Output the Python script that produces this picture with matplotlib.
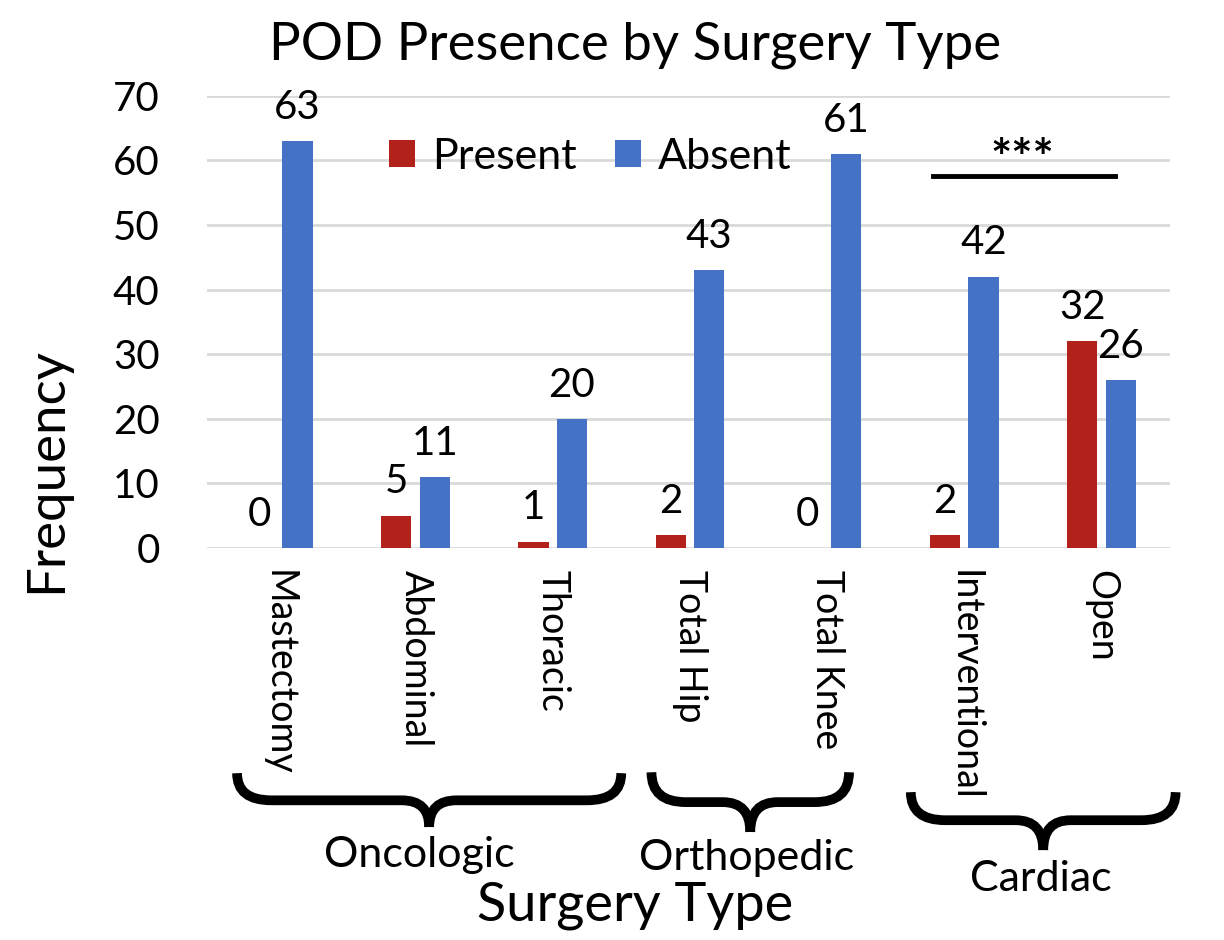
import numpy as np
import matplotlib
matplotlib.use("Agg")
import matplotlib.pyplot as plt
from matplotlib.path import Path
from matplotlib.patches import PathPatch
from matplotlib.transforms import blended_transform_factory

plt.rcParams['font.family'] = ['Lato', 'DejaVu Sans']

# data
categories = ['Mastectomy', 'Abdominal', 'Thoracic', 'Total Hip', 'Total Knee',
              'Interventional', 'Open']
present = [0, 5, 1, 2, 0, 2, 32]
absent = [63, 11, 20, 43, 61, 42, 26]
groups = ['Oncologic', 'Orthopedic', 'Cardiac']
yticks = [0, 10, 20, 30, 40, 50, 60, 70]

red = '#B2221A'
blue = '#4472C4'

fig = plt.figure(figsize=(12.24, 9.4), dpi=100)
ax = fig.add_axes([0.169, 0.417, 0.787, 0.481])

x = np.arange(len(categories))
w = 0.22
off = 0.14
b1 = ax.bar(x - off, present, w, color=red, label='Present', zorder=3)
b2 = ax.bar(x + off, absent, w, color=blue, label='Absent', zorder=3)

# value labels
for bars, vals in ((b1, present), (b2, absent)):
    for r, v in zip(bars, vals):
        ax.annotate(str(v), (r.get_x() + r.get_width() / 2, v),
                    xytext=(0, 11), textcoords='offset points',
                    ha='center', va='bottom', fontsize=29)

ax.set_xlim(-0.52, 6.5)
ax.set_ylim(0, 70)
ax.set_yticks(yticks)
ax.yaxis.grid(True, color='#D9D9D9', linewidth=2, zorder=0)
ax.set_axisbelow(True)
for s in ax.spines.values():
    s.set_visible(False)
ax.tick_params(axis='y', length=0, labelsize=29, pad=34)
ax.tick_params(axis='x', length=0, labelsize=27, pad=16)
ax.set_xticks(x)
ax.set_xticklabels(categories, rotation=270, va='top')

ax.legend(loc='center', bbox_to_anchor=(0.398, 0.865), ncol=2, frameon=False,
          fontsize=31, handlelength=0.6, handleheight=0.6, handletextpad=0.4,
          columnspacing=0.9)

# significance bar
ax.plot([4.77, 6.10], [57.6, 57.6], color='black', linewidth=3.5, zorder=4)
ax.text(5.42, 60.0, '***', ha='center', va='center', fontsize=36,
        fontweight='bold')

# group braces
trans = blended_transform_factory(ax.transData, ax.transAxes)


def brace(x0, x1, y_tip, y_bar, y_bot, r=0.25, m=0.2):
    xm = (x0 + x1) / 2
    left = Path([(x0, y_tip), (x0, y_bar), (x0 + r, y_bar), (xm - m, y_bar),
                 (xm, y_bar), (xm, y_bot)],
                [Path.MOVETO, Path.CURVE3, Path.CURVE3, Path.LINETO,
                 Path.CURVE3, Path.CURVE3])
    right = Path([(x1, y_tip), (x1, y_bar), (x1 - r, y_bar), (xm + m, y_bar),
                  (xm, y_bar), (xm, y_bot)],
                 [Path.MOVETO, Path.CURVE3, Path.CURVE3, Path.LINETO,
                  Path.CURVE3, Path.CURVE3])
    for p in (left, right):
        ax.add_patch(PathPatch(p, transform=trans, fill=False, lw=7,
                               color='black', capstyle='butt', clip_on=False))


brace(-0.30, 2.50, -0.498, -0.558, -0.617)
brace(2.72, 4.16, -0.496, -0.562, -0.628)
brace(4.61, 6.54, -0.540, -0.602, -0.668)

ax.text(1.03, -0.678, groups[0], transform=trans, ha='center', va='center', fontsize=31)
ax.text(3.41, -0.686, groups[1], transform=trans, ha='center', va='center', fontsize=31)
ax.text(5.56, -0.732, groups[2], transform=trans, ha='center', va='center', fontsize=31)

fig.text(0.519, 1 - 905 / 940, 'Surgery Type', ha='center', va='center', fontsize=39)
fig.text(0.038, 1 - 470 / 940, 'Frequency', ha='center', va='center',
         rotation=90, fontsize=38)
fig.text(0.519, 1 - 45 / 940, 'POD Presence by Surgery Type', ha='center',
         va='center', fontsize=38)

fig.savefig('out.png', dpi=100, facecolor='white')
